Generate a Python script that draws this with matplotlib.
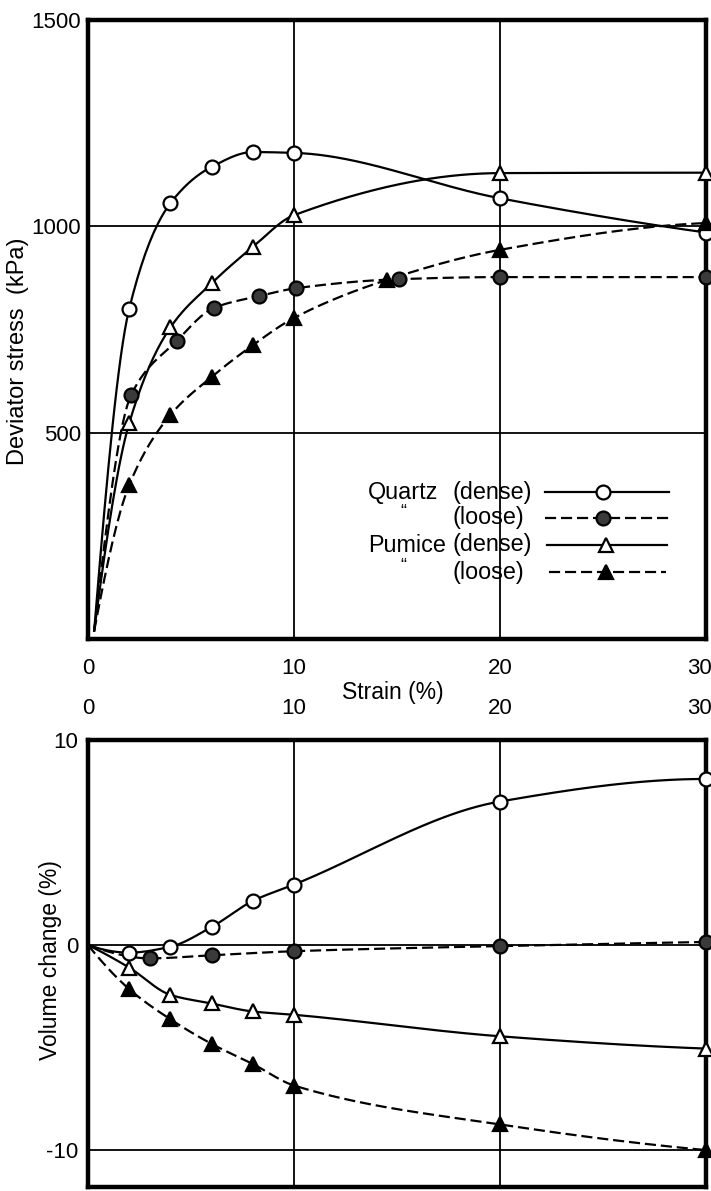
import numpy as np
import matplotlib
matplotlib.use('Agg')
import matplotlib.pyplot as plt
from matplotlib.lines import Line2D
from matplotlib.transforms import ScaledTranslation

plt.rcParams['font.family'] = ['Liberation Sans', 'DejaVu Sans']
plt.rcParams['axes.unicode_minus'] = False

# ---------------- data: deviator stress (kPa) vs strain (%) ----------------
strain_qd = [0.3, 2, 4, 6, 8, 10, 20, 30]
stress_qd = [20, 800, 1056, 1144, 1180, 1178, 1068, 985]
strain_ql = [0.3, 2.1, 4.3, 6.1, 8.3, 10.1, 15.1, 20, 30]
stress_ql = [20, 592, 722, 802, 831, 850, 872, 877, 877]
strain_pd = [0.3, 2, 4, 6, 8, 10, 20, 30]
stress_pd = [20, 523, 755, 862, 950, 1027, 1129, 1130]
strain_pl = [0.3, 2, 4, 6, 8, 10, 14.5, 20, 30]
stress_pl = [20, 373, 543, 635, 712, 778, 870, 943, 1008]

# ---------------- data: volume change (%) vs strain (%) ----------------
vstrain_qd = [0, 2, 4, 6, 8, 10, 20, 30]
vol_qd = [0, -0.37, -0.08, 0.88, 2.15, 2.95, 7.0, 8.1]
vstrain_ql = [0, 3, 6, 10, 20, 30]
vol_ql = [0, -0.65, -0.5, -0.3, -0.05, 0.15]
vstrain_pd = [0, 2, 4, 6, 8, 10, 20, 30]
vol_pd = [0, -1.1, -2.43, -2.85, -3.24, -3.4, -4.45, -5.05]
vstrain_pl = [0, 2, 4, 6, 8, 10, 20, 30]
vol_pl = [0, -2.15, -3.62, -4.82, -5.8, -6.85, -8.75, -10.0]

xticks = [0, 10, 20, 30]
yticks_stress = [500, 1000, 1500]
yticks_vol = [-10, 0, 10]
labels_col1 = ['Quartz', '\u201c', 'Pumice', '\u201c']
labels_col2 = ['(dense)', '(loose)', '(dense)', '(loose)']


def pchip(x, y, n=300):
    x = np.asarray(x, float)
    y = np.asarray(y, float)
    h = np.diff(x)
    d = np.diff(y) / h
    m = np.zeros_like(y)
    for k in range(1, len(x) - 1):
        if d[k - 1] * d[k] > 0:
            w1 = 2 * h[k] + h[k - 1]
            w2 = h[k] + 2 * h[k - 1]
            m[k] = (w1 + w2) / (w1 / d[k - 1] + w2 / d[k])
    def end(h0, h1, d0, d1):
        v = ((2 * h0 + h1) * d0 - h0 * d1) / (h0 + h1)
        if np.sign(v) != np.sign(d0):
            v = 0.0
        elif np.sign(d0) != np.sign(d1) and abs(v) > abs(3 * d0):
            v = 3 * d0
        return v
    m[0] = end(h[0], h[1], d[0], d[1])
    m[-1] = end(h[-1], h[-2], d[-1], d[-2])
    xs = np.linspace(x[0], x[-1], n)
    idx = np.clip(np.searchsorted(x, xs) - 1, 0, len(x) - 2)
    t = (xs - x[idx]) / h[idx]
    h00 = 2 * t**3 - 3 * t**2 + 1
    h10 = t**3 - 2 * t**2 + t
    h01 = -2 * t**3 + 3 * t**2
    h11 = t**3 - t**2
    ys = h00 * y[idx] + h10 * h[idx] * m[idx] + h01 * y[idx + 1] + h11 * h[idx] * m[idx + 1]
    return xs, ys


W, H = 711, 1191
fig = plt.figure(figsize=(W / 100, H / 100), dpi=100)

L, R = 88, 706
ax1 = fig.add_axes([L / W, 1 - 639 / H, (R - L) / W, (639 - 20) / H])
ax2 = fig.add_axes([L / W, 1 - 1187 / H, (R - L) / W, (1187 - 740) / H])

LW = 1.6
MS = 10
styles = {
    'qd': dict(ls='-', marker='o', mfc='white', mec='black'),
    'ql': dict(ls=(0, (5, 2.2)), marker='o', mfc='#3a3a3a', mec='black'),
    'pd': dict(ls='-', marker='^', mfc='white', mec='black'),
    'pl': dict(ls=(0, (5, 2.2)), marker='^', mfc='black', mec='black'),
}


def draw(ax, x, y, key, skip_first):
    st = styles[key]
    xs, ys = pchip(x, y)
    ax.plot(xs, ys, color='black', lw=LW, ls=st['ls'], zorder=3)
    i0 = 1 if skip_first else 0
    ax.plot(x[i0:], y[i0:], ls='none', marker=st['marker'], ms=MS,
            mfc=st['mfc'], mec=st['mec'], mew=1.6, zorder=4, clip_on=False)


draw(ax1, strain_qd, stress_qd, 'qd', True)
draw(ax1, strain_ql, stress_ql, 'ql', True)
draw(ax1, strain_pd, stress_pd, 'pd', True)
draw(ax1, strain_pl, stress_pl, 'pl', True)

draw(ax2, vstrain_qd, vol_qd, 'qd', True)
draw(ax2, vstrain_ql, vol_ql, 'ql', True)
draw(ax2, vstrain_pd, vol_pd, 'pd', True)
draw(ax2, vstrain_pl, vol_pl, 'pl', True)

TS = 16
for ax in (ax1, ax2):
    ax.set_xlim(0, 30)
    for s in ax.spines.values():
        s.set_linewidth(3.2)
    ax.tick_params(length=0, labelsize=TS)

ax1.set_ylim(0, 1500)
ax1.set_xticks(xticks)
ax1.set_yticks(yticks_stress)
ax1.tick_params(axis='x', pad=14)
ax1.tick_params(axis='y', pad=5)
for v in (10, 20):
    ax1.axvline(v, color='black', lw=1.3, zorder=1)
for v in (500, 1000):
    ax1.axhline(v, color='black', lw=1.3, zorder=1)

ax2.set_ylim(-11.8, 10)
ax2.set_xticks(xticks)
ax2.set_yticks(yticks_vol)
ax2.xaxis.tick_top()
ax2.tick_params(axis='x', pad=15)
ax2.tick_params(axis='y', pad=7)
for v in (10, 20):
    ax2.axvline(v, color='black', lw=1.3, zorder=1)
for v in (0, -10):
    ax2.axhline(v, color='black', lw=1.3, zorder=1)

# shift the last x tick label slightly left so it stays inside the figure
shift = ScaledTranslation(-7 / 100, 0, fig.dpi_scale_trans)
for ax in (ax1, ax2):
    lab = ax.get_xticklabels()[-1]
    lab.set_transform(lab.get_transform() + shift)

LS = 16.5
fig.text(393 / W, 1 - 692 / H, 'Strain (%)', ha='center', va='center', fontsize=LS)
fig.text(18 / W, 1 - 351 / H, 'Deviator stress  (kPa)', ha='center', va='center',
         rotation=90, fontsize=17)
fig.text(51 / W, 1 - 960 / H, 'Volume change (%)', ha='center', va='center',
         rotation=90, fontsize=LS)

# legend drawn inside top panel
GS = 16.8
rows = [492, 518, 545, 572]
col1_x = [368, 400, 368, 400]
col1_fs = [GS, 13, GS, 13]
handle_x = [(545, 669, 603), (545, 669, 603), (547, 667, 606), (549, 666, 606)]
keys = ['qd', 'ql', 'pd', 'pl']
for r, c1x, c1fs, lab1, lab2, hx, key in zip(rows, col1_x, col1_fs, labels_col1,
                                             labels_col2, handle_x, keys):
    dy = -5 if c1fs < GS else 0
    fig.text(c1x / W, 1 - (r + dy) / H, lab1, ha='left', va='center', fontsize=c1fs)
    fig.text(452 / W, 1 - r / H, lab2, ha='left', va='center', fontsize=GS)
    st = styles[key]
    yy = 1 - r / H
    fig.add_artist(Line2D([hx[0] / W, hx[1] / W], [yy, yy], transform=fig.transFigure,
                          color='black', lw=LW, ls=st['ls']))
    fig.add_artist(Line2D([hx[2] / W], [yy], transform=fig.transFigure, ls='none',
                          marker=st['marker'], ms=MS, mfc=st['mfc'], mec=st['mec'], mew=1.6))

fig.savefig('out.png', dpi=100)
